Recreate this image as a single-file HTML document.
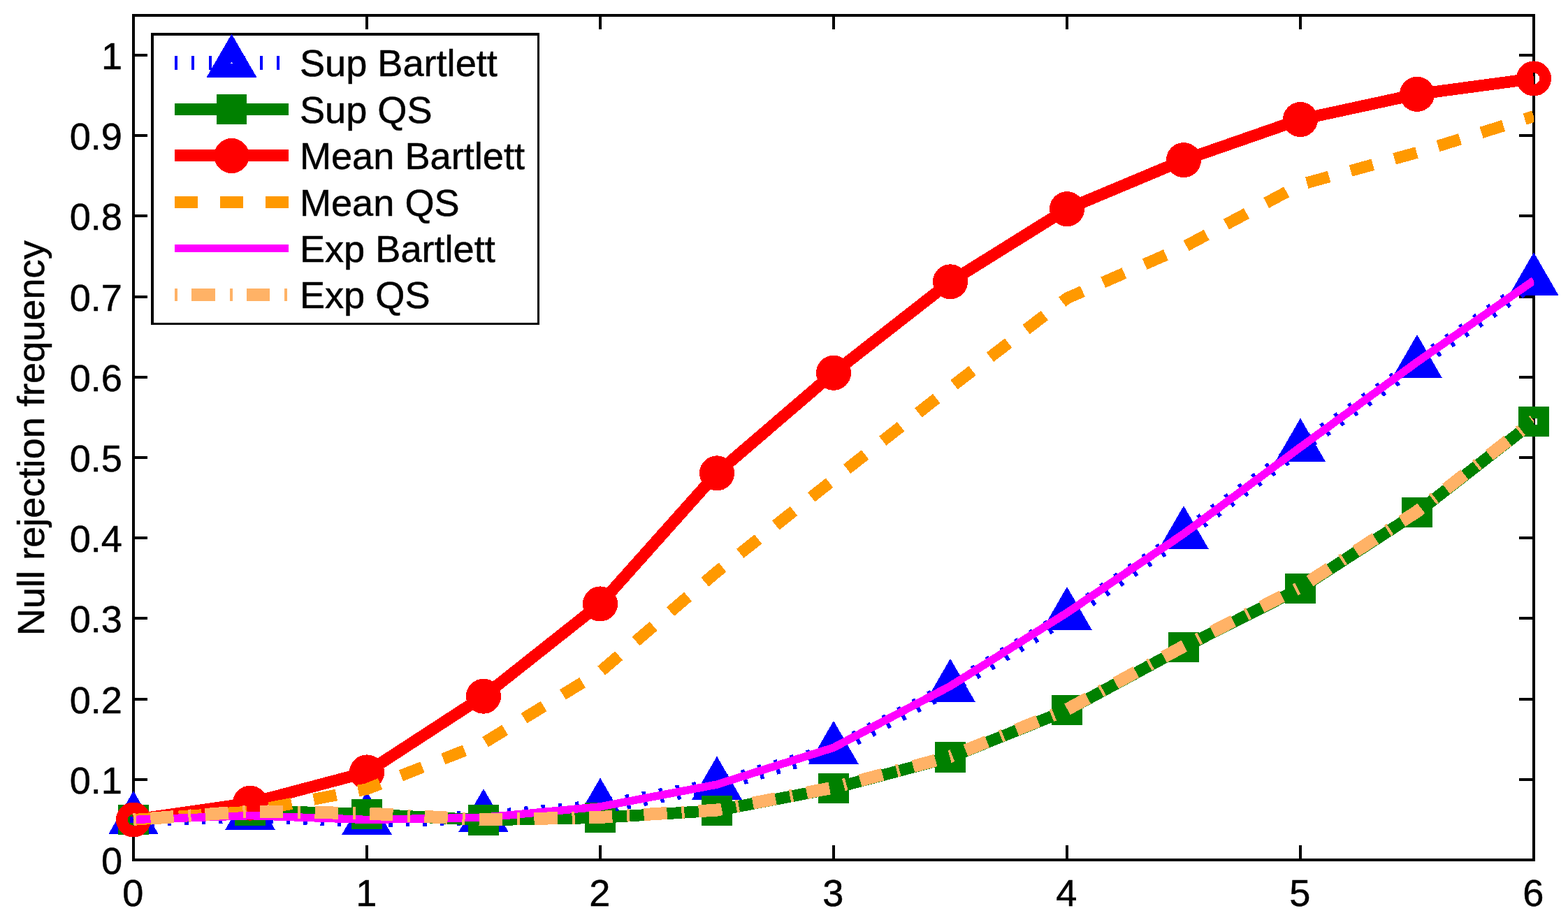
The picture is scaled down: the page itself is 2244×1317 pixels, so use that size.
<!DOCTYPE html>
<html lang="en"><head><meta charset="utf-8"><title>Null rejection frequency</title>
<style>html,body{margin:0;padding:0;background:#fff;}body{width:2244px;height:1317px;overflow:hidden;}svg{display:block;}text{font-family:'Liberation Sans', sans-serif;font-size:54.17px;fill:#000;stroke:#000;stroke-width:0.5px;}</style>
</head><body>
<svg width="2244" height="1317" viewBox="0 0 2244 1317">
<rect x="0" y="0" width="2244" height="1317" fill="#ffffff"/>
<g id="axes" shape-rendering="crispEdges" fill="#000">
<rect x="189" y="20" width="2008" height="4"/>
<rect x="189" y="1229" width="2008" height="4"/>
<rect x="189" y="20" width="4" height="1213"/>
<rect x="2193" y="20" width="4" height="1213"/>
<rect x="189" y="1210" width="4" height="21"/>
<rect x="189" y="22" width="4" height="20"/>
<rect x="523" y="1210" width="4" height="21"/>
<rect x="523" y="22" width="4" height="20"/>
<rect x="857" y="1210" width="4" height="21"/>
<rect x="857" y="22" width="4" height="20"/>
<rect x="1191" y="1210" width="4" height="21"/>
<rect x="1191" y="22" width="4" height="20"/>
<rect x="1525" y="1210" width="4" height="21"/>
<rect x="1525" y="22" width="4" height="20"/>
<rect x="1859" y="1210" width="4" height="21"/>
<rect x="1859" y="22" width="4" height="20"/>
<rect x="2193" y="1210" width="4" height="21"/>
<rect x="2193" y="22" width="4" height="20"/>
<rect x="191" y="1229" width="20" height="4"/>
<rect x="2174" y="1229" width="21" height="4"/>
<rect x="191" y="1114" width="20" height="4"/>
<rect x="2174" y="1114" width="21" height="4"/>
<rect x="191" y="999" width="20" height="4"/>
<rect x="2174" y="999" width="21" height="4"/>
<rect x="191" y="883" width="20" height="4"/>
<rect x="2174" y="883" width="21" height="4"/>
<rect x="191" y="768" width="20" height="4"/>
<rect x="2174" y="768" width="21" height="4"/>
<rect x="191" y="653" width="20" height="4"/>
<rect x="2174" y="653" width="21" height="4"/>
<rect x="191" y="538" width="20" height="4"/>
<rect x="2174" y="538" width="21" height="4"/>
<rect x="191" y="423" width="20" height="4"/>
<rect x="2174" y="423" width="21" height="4"/>
<rect x="191" y="307" width="20" height="4"/>
<rect x="2174" y="307" width="21" height="4"/>
<rect x="191" y="192" width="20" height="4"/>
<rect x="2174" y="192" width="21" height="4"/>
<rect x="191" y="77" width="20" height="4"/>
<rect x="2174" y="77" width="21" height="4"/>
</g>
<g id="xticklabels" text-anchor="middle">
<text x="190.4" y="1297">0</text>
<text x="524.4" y="1297">1</text>
<text x="858.4" y="1297">2</text>
<text x="1192.4" y="1297">3</text>
<text x="1526.4" y="1297">4</text>
<text x="1860.4" y="1297">5</text>
<text x="2194.4" y="1297">6</text>
</g>
<g id="yticklabels" text-anchor="end">
<text x="175" y="1251">0</text>
<text x="175" y="1135.8">0.1</text>
<text x="175" y="1020.6">0.2</text>
<text x="175" y="905.4">0.3</text>
<text x="175" y="790.2">0.4</text>
<text x="175" y="675">0.5</text>
<text x="175" y="559.8">0.6</text>
<text x="175" y="444.6">0.7</text>
<text x="175" y="329.4">0.8</text>
<text x="175" y="214.2">0.9</text>
<text x="175" y="99">1</text>
</g>
<text id="ylabel" text-anchor="middle" transform="translate(63 627.2) rotate(-90)">Null rejection frequency</text>
<defs><clipPath id="axclip"><rect x="190" y="22" width="2005.3" height="1209"/></clipPath></defs>
<g id="data" shape-rendering="crispEdges">
<g id="sup-bartlett">
<polyline clip-path="url(#axclip)" points="191,1173.63 358,1167.29 525,1174.21 692,1170.52 859,1154.97 1026,1124.09 1193,1073.29 1360,984.36 1527,881.48 1694,765.48 1861,640.14 2028,520.45 2195,402.71" fill="none" stroke="#0000ff" stroke-width="21" stroke-linejoin="round" stroke-dasharray="5.4 18.97"/>
<polygon points="191,1152.13 172.38,1184.38 209.62,1184.38" fill="none" stroke="#0000ff" stroke-width="20" stroke-linejoin="miter" stroke-miterlimit="10"/>
<polygon points="358,1145.79 339.38,1178.04 376.62,1178.04" fill="none" stroke="#0000ff" stroke-width="20" stroke-linejoin="miter" stroke-miterlimit="10"/>
<polygon points="525,1152.71 506.38,1184.96 543.62,1184.96" fill="none" stroke="#0000ff" stroke-width="20" stroke-linejoin="miter" stroke-miterlimit="10"/>
<polygon points="692,1149.02 673.38,1181.27 710.62,1181.27" fill="none" stroke="#0000ff" stroke-width="20" stroke-linejoin="miter" stroke-miterlimit="10"/>
<polygon points="859,1133.47 840.38,1165.72 877.62,1165.72" fill="none" stroke="#0000ff" stroke-width="20" stroke-linejoin="miter" stroke-miterlimit="10"/>
<polygon points="1026,1102.59 1007.38,1134.84 1044.62,1134.84" fill="none" stroke="#0000ff" stroke-width="20" stroke-linejoin="miter" stroke-miterlimit="10"/>
<polygon points="1193,1051.79 1174.38,1084.04 1211.62,1084.04" fill="none" stroke="#0000ff" stroke-width="20" stroke-linejoin="miter" stroke-miterlimit="10"/>
<polygon points="1360,962.86 1341.38,995.11 1378.62,995.11" fill="none" stroke="#0000ff" stroke-width="20" stroke-linejoin="miter" stroke-miterlimit="10"/>
<polygon points="1527,859.98 1508.38,892.23 1545.62,892.23" fill="none" stroke="#0000ff" stroke-width="20" stroke-linejoin="miter" stroke-miterlimit="10"/>
<polygon points="1694,743.98 1675.38,776.23 1712.62,776.23" fill="none" stroke="#0000ff" stroke-width="20" stroke-linejoin="miter" stroke-miterlimit="10"/>
<polygon points="1861,618.64 1842.38,650.89 1879.62,650.89" fill="none" stroke="#0000ff" stroke-width="20" stroke-linejoin="miter" stroke-miterlimit="10"/>
<polygon points="2028,498.95 2009.38,531.2 2046.62,531.2" fill="none" stroke="#0000ff" stroke-width="20" stroke-linejoin="miter" stroke-miterlimit="10"/>
<polygon points="2195,381.21 2176.38,413.46 2213.62,413.46" fill="none" stroke="#0000ff" stroke-width="20" stroke-linejoin="miter" stroke-miterlimit="10"/>
</g>
<g id="sup-qs">
<polyline clip-path="url(#axclip)" points="191,1173.4 358,1160.38 525,1165.57 692,1173.98 859,1170.52 1026,1160.27 1193,1128.36 1360,1084 1527,1016.73 1694,926.53 1861,842.2 2028,733.8 2195,603.39" fill="none" stroke="#008000" stroke-width="16.8" stroke-linejoin="round"/>
<rect x="177.85" y="1160.25" width="26.3" height="26.3" fill="none" stroke="#008000" stroke-width="16.8"/>
<rect x="344.85" y="1147.23" width="26.3" height="26.3" fill="none" stroke="#008000" stroke-width="16.8"/>
<rect x="511.85" y="1152.42" width="26.3" height="26.3" fill="none" stroke="#008000" stroke-width="16.8"/>
<rect x="678.85" y="1160.83" width="26.3" height="26.3" fill="none" stroke="#008000" stroke-width="16.8"/>
<rect x="845.85" y="1157.37" width="26.3" height="26.3" fill="none" stroke="#008000" stroke-width="16.8"/>
<rect x="1012.85" y="1147.12" width="26.3" height="26.3" fill="none" stroke="#008000" stroke-width="16.8"/>
<rect x="1179.85" y="1115.21" width="26.3" height="26.3" fill="none" stroke="#008000" stroke-width="16.8"/>
<rect x="1346.85" y="1070.85" width="26.3" height="26.3" fill="none" stroke="#008000" stroke-width="16.8"/>
<rect x="1513.85" y="1003.58" width="26.3" height="26.3" fill="none" stroke="#008000" stroke-width="16.8"/>
<rect x="1680.85" y="913.38" width="26.3" height="26.3" fill="none" stroke="#008000" stroke-width="16.8"/>
<rect x="1847.85" y="829.05" width="26.3" height="26.3" fill="none" stroke="#008000" stroke-width="16.8"/>
<rect x="2014.85" y="720.65" width="26.3" height="26.3" fill="none" stroke="#008000" stroke-width="16.8"/>
<rect x="2181.85" y="590.24" width="26.3" height="26.3" fill="none" stroke="#008000" stroke-width="16.8"/>
</g>
<g id="mean-bartlett">
<polyline clip-path="url(#axclip)" points="191,1173.52 358,1149.67 525,1105.43 692,996.68 859,864.43 1026,677.35 1193,533.81 1360,403.29 1527,299.15 1694,229.11 1861,171.04 2028,134.87 2195,112.41" fill="none" stroke="#ff0000" stroke-width="16.8" stroke-linejoin="round"/>
<circle cx="191" cy="1173.52" r="16.6" fill="none" stroke="#ff0000" stroke-width="16.8"/>
<circle cx="358" cy="1149.67" r="16.6" fill="none" stroke="#ff0000" stroke-width="16.8"/>
<circle cx="525" cy="1105.43" r="16.6" fill="none" stroke="#ff0000" stroke-width="16.8"/>
<circle cx="692" cy="996.68" r="16.6" fill="none" stroke="#ff0000" stroke-width="16.8"/>
<circle cx="859" cy="864.43" r="16.6" fill="none" stroke="#ff0000" stroke-width="16.8"/>
<circle cx="1026" cy="677.35" r="16.6" fill="none" stroke="#ff0000" stroke-width="16.8"/>
<circle cx="1193" cy="533.81" r="16.6" fill="none" stroke="#ff0000" stroke-width="16.8"/>
<circle cx="1360" cy="403.29" r="16.6" fill="none" stroke="#ff0000" stroke-width="16.8"/>
<circle cx="1527" cy="299.15" r="16.6" fill="none" stroke="#ff0000" stroke-width="16.8"/>
<circle cx="1694" cy="229.11" r="16.6" fill="none" stroke="#ff0000" stroke-width="16.8"/>
<circle cx="1861" cy="171.04" r="16.6" fill="none" stroke="#ff0000" stroke-width="16.8"/>
<circle cx="2028" cy="134.87" r="16.6" fill="none" stroke="#ff0000" stroke-width="16.8"/>
<circle cx="2195" cy="112.41" r="16.6" fill="none" stroke="#ff0000" stroke-width="16.8"/>
</g>
<g id="mean-qs"><polyline clip-path="url(#axclip)" points="191,1173.4 358,1161.88 525,1129.62 692,1063.73 859,961.55 1026,818.58 1193,686.45 1360,554.89 1527,426.9 1694,353.75 1861,264.24 2028,218.39 2195,166.55" fill="none" stroke="#ff9900" stroke-width="16.8" stroke-linejoin="round" stroke-dasharray="33 32"/></g>
<g id="exp-bartlett"><polyline clip-path="url(#axclip)" points="191,1173.4 358,1167.64 525,1173.4 692,1170.29 859,1154.85 1026,1123.06 1193,1070.18 1360,982.17 1527,877.22 1694,764.21 1861,640.25 2028,518.26 2195,401.56" fill="none" stroke="#ff00ff" stroke-width="11.4" stroke-linejoin="round"/></g>
<g id="exp-qs"><polyline clip-path="url(#axclip)" points="191,1173.4 358,1161.3 525,1164.41 692,1173.4 859,1169.94 1026,1159.58 1193,1127.32 1360,1082.97 1527,1015.58 1694,925.14 1861,840.47 2028,732.18 2195,602.01" fill="none" stroke="#ffb266" stroke-width="18" stroke-linejoin="round" stroke-dasharray="4 20.4 33.3 20.84"/></g>
</g>
<g id="legend">
<rect x="216" y="47" width="557" height="418" fill="#fff"/>
<g shape-rendering="crispEdges" fill="#000">
<rect x="216" y="47" width="556" height="4"/>
<rect x="216" y="462" width="556" height="3"/>
<rect x="216" y="47" width="4" height="418"/>
<rect x="769" y="47" width="3" height="418"/>
</g>
<g shape-rendering="crispEdges">
<line x1="250" y1="90" x2="413" y2="90" stroke="#0000ff" stroke-width="20" stroke-dasharray="4 20.37"/>
<polygon points="331.5,68.5 312.88,100.75 350.12,100.75" fill="none" stroke="#0000ff" stroke-width="20" stroke-linejoin="miter" stroke-miterlimit="10"/>
<line x1="250" y1="156.5" x2="413" y2="156.5" stroke="#008000" stroke-width="16.8"/>
<rect x="318.35" y="143.35" width="26.3" height="26.3" fill="none" stroke="#008000" stroke-width="16.8"/>
<line x1="250" y1="222.5" x2="413" y2="222.5" stroke="#ff0000" stroke-width="16.8"/>
<circle cx="331.5" cy="223" r="16.6" fill="none" stroke="#ff0000" stroke-width="16.8"/>
<line x1="250" y1="289.5" x2="413" y2="289.5" stroke="#ff9900" stroke-width="16.8" stroke-dasharray="33 32"/>
<line x1="250" y1="355.5" x2="413" y2="355.5" stroke="#ff00ff" stroke-width="10.8"/>
<line x1="250" y1="422" x2="413" y2="422" stroke="#ffb266" stroke-width="18" stroke-dasharray="4 20.4 33.3 20.84"/>
</g>
<text x="428.9" y="109.3">Sup Bartlett</text>
<text x="428.9" y="175.8">Sup QS</text>
<text x="428.9" y="241.8">Mean Bartlett</text>
<text x="428.9" y="308.8">Mean QS</text>
<text x="428.9" y="374.8">Exp Bartlett</text>
<text x="428.9" y="441.3">Exp QS</text>
</g>
</svg>
</body></html>
